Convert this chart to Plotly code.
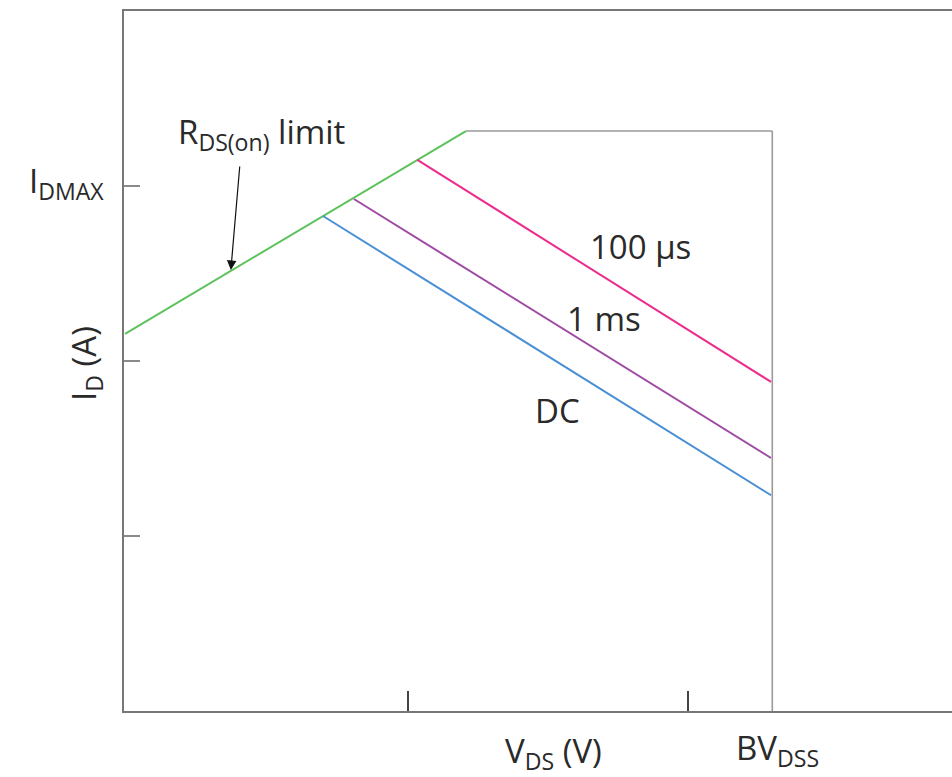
import numpy as np
import plotly.graph_objects as go

# ---- data (log-log SOA schematic) ----
rds_x = [0.976, 16.1]          # RDS(on) limit line
rds_y = [14.3, 206]
imax_x = [16.1, 200]           # IDMAX top limit
imax_y = [206, 206]
bv_x = [200, 200]              # BVDSS vertical limit
bv_y = [206, 0.1]
us100_x = [10.8, 198]
us100_y = [141, 7.59]
ms1_x = [6.41, 198]
ms1_y = [84.3, 2.79]
dc_x = [4.97, 198]
dc_y = [67.4, 1.71]
x_ticks = [10, 100]
y_ticks = [1, 10, 100]

FONT = "Open Sans"
TXT = "#2a2a2a"
FS = 33

fig = go.Figure()
fig.add_trace(go.Scatter(x=imax_x, y=imax_y, mode="lines", line=dict(color="#9a9a9a", width=1.6)))
fig.add_trace(go.Scatter(x=bv_x, y=bv_y, mode="lines", line=dict(color="#9a9a9a", width=1.6)))
fig.add_trace(go.Scatter(x=rds_x, y=rds_y, mode="lines", line=dict(color="#5cc25c", width=2)))
fig.add_trace(go.Scatter(x=us100_x, y=us100_y, mode="lines", line=dict(color="#ec2c8c", width=2)))
fig.add_trace(go.Scatter(x=ms1_x, y=ms1_y, mode="lines", line=dict(color="#a04aa4", width=2)))
fig.add_trace(go.Scatter(x=dc_x, y=dc_y, mode="lines", line=dict(color="#4a90d4", width=2)))

L, T, B = 124, 11, 66
W, H = 952, 777
pw, ph = W - L, H - T - B

def px(x):
    return (x - L) / pw

def py(y):
    return (H - B - y) / ph

anns = [
    dict(text="I<sub>DMAX</sub>", x=px(106), y=py(182), xanchor="right", yanchor="middle"),
    dict(text="I<sub>D</sub> (A)", x=px(86), y=py(364), xanchor="center", yanchor="middle", textangle=-90),
    dict(text="V<sub>DS</sub> (V)", x=px(553), y=py(752), xanchor="center", yanchor="middle"),
    dict(text="BV<sub>DSS</sub>", x=px(777), y=py(750), xanchor="center", yanchor="middle"),
    dict(text="100 µs", x=px(640), y=py(246), xanchor="center", yanchor="middle"),
    dict(text="1 ms", x=px(604), y=py(318), xanchor="center", yanchor="middle"),
    dict(text="DC", x=px(557), y=py(410), xanchor="center", yanchor="middle"),
    dict(text="R<sub>DS(on)</sub> limit", x=px(261), y=py(133), xanchor="center", yanchor="middle"),
]
annotations = []
for a in anns:
    a.update(xref="paper", yref="paper", showarrow=False,
             font=dict(family=FONT, size=FS, color=TXT))
    annotations.append(a)

# arrow pointing at RDS(on) limit line
annotations.append(dict(x=np.log10(2.33), y=np.log10(33.1), xref="x", yref="y",
                        ax=9, ay=-105, axref="pixel", ayref="pixel",
                        text="", showarrow=True, arrowhead=2, arrowsize=1.6,
                        arrowwidth=1.2, arrowcolor="#111111"))

fig.update_layout(
    width=W, height=H,
    margin=dict(l=L, r=0, t=T, b=B),
    paper_bgcolor="white", plot_bgcolor="white",
    showlegend=False,
    annotations=annotations,
    xaxis=dict(type="log", range=[-4 / 280, (952 - 128) / 280],
               showgrid=False, zeroline=False,
               showline=True, linecolor="#777777", linewidth=2, mirror=True,
               tickvals=x_ticks, ticks="inside", ticklen=20, tickwidth=1.5,
               tickcolor="#444444", showticklabels=False),
    yaxis=dict(type="log", range=[-1, 3],
               showgrid=False, zeroline=False,
               showline=True, linecolor="#777777", linewidth=2, mirror=False,
               tickvals=y_ticks, ticks="inside", ticklen=16, tickwidth=2,
               tickcolor="#8a8a8a", showticklabels=False),
)

fig.write_html("out.html")
